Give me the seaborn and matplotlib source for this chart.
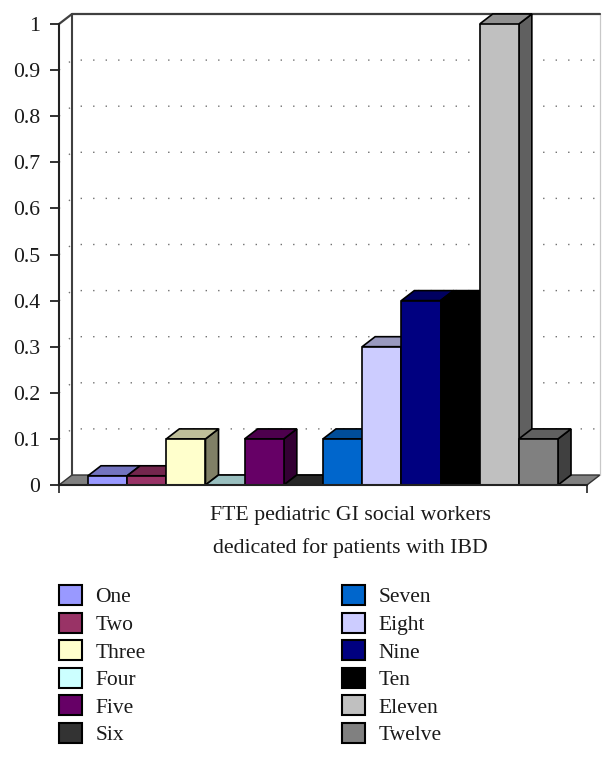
import pandas as pd
import seaborn as sns
import matplotlib.pyplot as plt
from matplotlib.patches import Polygon

labels = ["One", "Two", "Three", "Four", "Five", "Six",
          "Seven", "Eight", "Nine", "Ten", "Eleven", "Twelve"]
values = [0.02, 0.02, 0.1, 0, 0.1, 0, 0.1, 0.3, 0.4, 0.4, 1, 0.1]
colors = ["#9999FF", "#993366", "#FFFFCC", "#CCFFFF", "#660066", "#333333",
          "#0066CC", "#CCCCFF", "#000080", "#000000", "#C0C0C0", "#808080"]
y_ticks = [0, 0.1, 0.2, 0.3, 0.4, 0.5, 0.6, 0.7, 0.8, 0.9, 1]
y_tick_labels = ["0", "0.1", "0.2", "0.3", "0.4", "0.5", "0.6", "0.7", "0.8", "0.9", "1"]
x_title = "FTE pediatric GI social workers\ndedicated for patients with IBD"

W, H = 615, 761
DEPTH_X = 13 / 39.2    # 3d offset in bar widths
DEPTH_Y = 10 / 461     # 3d offset in value units
X_MIN, X_MAX = -1.24, 12 - 0.5 + 0.74
EDGE = 1.2


def shade(color, k):
    r, g, b = plt.matplotlib.colors.to_rgb(color)
    return (r * k, g * k, b * k)


sns.set_theme(style="white")
plt.rcParams["font.family"] = ["Liberation Serif", "DejaVu Serif"]

df = pd.DataFrame({"label": labels, "value": values})

fig = plt.figure(figsize=(W / 100, H / 100), dpi=100)
ax = fig.add_axes([59 / W, 1 - 485 / H, 528 / W, 461 / H])

sns.barplot(
    data=df,
    x="label",
    y="value",
    hue="label",
    palette=dict(zip(labels, colors)),
    saturation=1,
    width=1,
    dodge=False,
    edgecolor="black",
    linewidth=EDGE,
    legend=True,
    ax=ax,
)

for bar in list(ax.patches):
    bar.set_zorder(5)

ax.set_xlim(X_MIN, X_MAX)
ax.set_ylim(0, 1)

# walls and floor
wall_x = X_MAX + DEPTH_X
ax.add_patch(Polygon(
    [(X_MIN, 0), (X_MIN + DEPTH_X, DEPTH_Y), (wall_x, DEPTH_Y), (X_MAX, 0)],
    facecolor="#808080", edgecolor="#333333", linewidth=1.0, clip_on=False, zorder=1,
))
ax.plot([X_MIN, X_MIN + DEPTH_X, wall_x], [1, 1 + DEPTH_Y, 1 + DEPTH_Y],
        color="#404040", lw=1.6, clip_on=False, zorder=1.5)
ax.plot([X_MIN + DEPTH_X, X_MIN + DEPTH_X], [DEPTH_Y, 1 + DEPTH_Y],
        color="#404040", lw=1.5, clip_on=False, zorder=1.5)
ax.plot([wall_x, wall_x], [DEPTH_Y, 1 + DEPTH_Y],
        color="#c8c8c8", lw=0.9, clip_on=False, zorder=1.2)

# dotted grid on the back wall
for t in y_ticks[1:-1]:
    ax.plot([X_MIN, X_MIN + DEPTH_X, wall_x], [t, t + DEPTH_Y, t + DEPTH_Y],
            color="#707070", lw=1.0, linestyle=(0, (1, 8.0)), clip_on=False, zorder=1.1)

# top and side faces of the bars
for i, (v, c) in enumerate(zip(values, colors)):
    left, right = i - 0.5, i + 0.5
    ax.add_patch(Polygon(
        [(right, 0), (right + DEPTH_X, DEPTH_Y), (right + DEPTH_X, v + DEPTH_Y), (right, v)],
        facecolor=shade(c, 0.5), edgecolor="black", linewidth=EDGE,
        clip_on=False, zorder=2 + i * 0.01,
    ))
    ax.add_patch(Polygon(
        [(left, v), (left + DEPTH_X, v + DEPTH_Y), (right + DEPTH_X, v + DEPTH_Y), (right, v)],
        facecolor=shade(c, 0.75), edgecolor="black", linewidth=EDGE,
        clip_on=False, zorder=2 + i * 0.01,
    ))

sns.despine(ax=ax, top=True, right=True)
for side in ["left", "bottom"]:
    ax.spines[side].set_color("#222222")
    ax.spines[side].set_linewidth(1.5)
    ax.spines[side].set_zorder(6)

ax.set_yticks(y_ticks)
ax.set_yticklabels(y_tick_labels, fontsize=15.7, color="#1a1a1a")
ax.tick_params(axis="y", left=True, length=6.5, width=1.3, color="#222222", pad=7)
ax.set_xticks([X_MIN, X_MAX])
ax.set_xticklabels(["", ""])
ax.tick_params(axis="x", bottom=True, length=6, width=1.2, color="#222222")

ax.set_ylabel("")
ax.set_xlabel(x_title, fontsize=15.7, color="#1a1a1a", linespacing=1.86, ha="center")
ax.xaxis.set_label_coords(291 / 528, -(506 - 485) / 461, transform=ax.transAxes)
ax.xaxis.label.set_va("top")

handles, legend_labels = ax.get_legend_handles_labels()
ax.legend(
    handles, legend_labels,
    ncol=2,
    loc="upper left",
    bbox_to_anchor=(58.5 / W, 1 - 585 / H),
    bbox_transform=fig.transFigure,
    frameon=False,
    fontsize=15.5,
    borderpad=0,
    borderaxespad=0,
    handlelength=1.07,
    handleheight=1.07,
    handletextpad=0.65,
    labelspacing=0.237,
    columnspacing=9.1,
    labelcolor="#1a1a1a",
)
for h in ax.get_legend().get_patches():
    h.set_linewidth(1.5)

fig.savefig("out.png", dpi=100)
plt.close(fig)
